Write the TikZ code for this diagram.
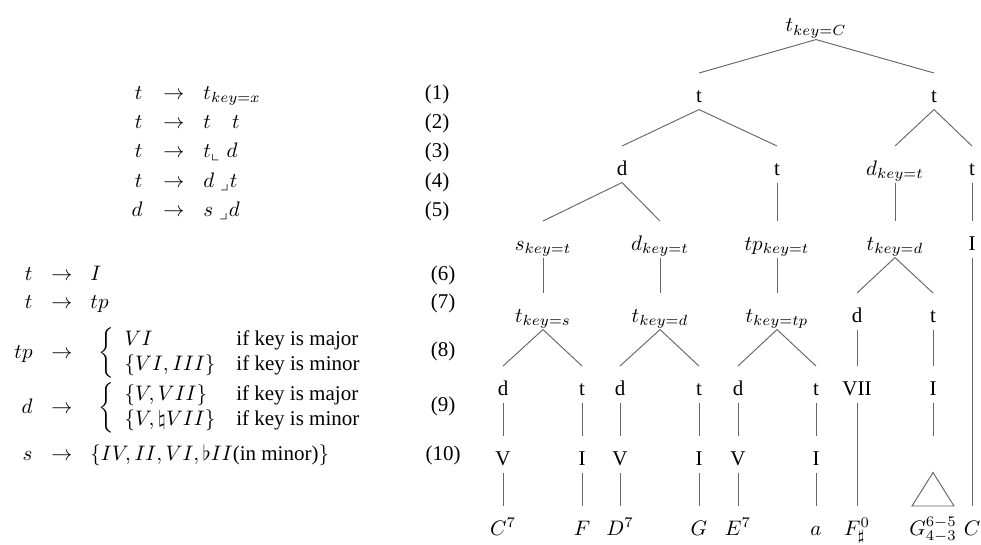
\documentclass[tikz,border=0pt]{standalone}
\usepackage[no-math]{fontspec}
\setmainfont{Liberation Serif}
\usepackage{amsmath,amssymb}

% the two rules with a case split
\newcommand{\tpcases}{\bigg\{\begin{array}{ll}
  VI & \text{if key is major}\\
  \{VI,III\} & \text{if key is minor}
 \end{array}}
\newcommand{\domcases}{\bigg\{\begin{array}{ll}
  \{V,VII\} & \text{if key is major}\\
  \{V,\natural VII\} & \text{if key is minor}
 \end{array}}

\begin{document}
\begin{tikzpicture}[x=0.476pt,y=-0.476pt]
 \tikzset{rl/.style = {inner sep=0pt, anchor=base}}
 \tikzset{tn/.style = {inner sep=0pt, text height=13.6pt, text depth=3.4pt, anchor=base}}
 \tikzset{branch/.style = {draw=black!60, line width=0.45pt}}
 \useasboundingbox (0,0) rectangle (981,545);

 % rules (1)-(5)
 \node[rl,anchor=base east] (l1) at (143,99) {$t$};
 \node[rl] (a1) at (174,99) {$\rightarrow$};
 \node[rl,anchor=base west] (r1) at (203,99) {$t_{key=x}$};
 \node[rl] (n1) at (437,99) {(1)};
 \node[rl,anchor=base east] (l2) at (143,128) {$t$};
 \node[rl] (a2) at (174,128) {$\rightarrow$};
 \node[rl,anchor=base west] (r2) at (203,128) {$t\quad t$};
 \node[rl] (n2) at (437,128) {(2)};
 \node[rl,anchor=base east] (l3) at (143,157) {$t$};
 \node[rl] (a3) at (174,157) {$\rightarrow$};
 \node[rl,anchor=base west] (r3) at (203,157) {$t_\llcorner\;d$};
 \node[rl] (n3) at (437,157) {(3)};
 \node[rl,anchor=base east] (l4) at (143,187) {$t$};
 \node[rl] (a4) at (174,187) {$\rightarrow$};
 \node[rl,anchor=base west] (r4) at (203,187) {$d\;{}_\lrcorner t$};
 \node[rl] (n4) at (437,187) {(4)};
 \node[rl,anchor=base east] (l5) at (143,216) {$d$};
 \node[rl] (a5) at (174,216) {$\rightarrow$};
 \node[rl,anchor=base west] (r5) at (203,216) {$s\;{}_\lrcorner d$};
 \node[rl] (n5) at (437,216) {(5)};

 % rules (6)-(10)
 \node[rl,anchor=base east] (l6) at (33,280) {$t$};
 \node[rl] (a6) at (62,280) {$\rightarrow$};
 \node[rl,anchor=base west] (r6) at (90,280) {$I$};
 \node[rl] (n6) at (443,280) {(6)};
 \node[rl,anchor=base east] (l7) at (33,308) {$t$};
 \node[rl] (a7) at (62,308) {$\rightarrow$};
 \node[rl,anchor=base west] (r7) at (90,308) {$tp$};
 \node[rl] (n7) at (443,308) {(7)};
 \node[rl,anchor=base east] (l8) at (33,358) {$tp$};
 \node[rl] (a8) at (62,358) {$\rightarrow$};
 \node[rl,anchor=base west] (r8) at (98,358) {$\tpcases$};
 \node[rl] (n8) at (443,356) {(8)};
 \node[rl,anchor=base east] (l9) at (33,413) {$d$};
 \node[rl] (a9) at (62,413) {$\rightarrow$};
 \node[rl,anchor=base west] (r9) at (98,413) {$\domcases$};
 \node[rl] (n9) at (443,411) {(9)};
 \node[rl,anchor=base east] (l10) at (33,460) {$s$};
 \node[rl] (a10) at (62,460) {$\rightarrow$};
 \node[rl,anchor=base west] (r10) at (90,460) {$\{IV,II,VI,\flat II\text{(in minor)}\}$};
 \node[rl] (n10) at (443,460) {(10)};

 % the tree
 \node[tn] (root) at (816,32) {$t_{key=C}$};
 \node[tn] (tA) at (699,102) {t};
 \node[tn] (tB) at (934,102) {t};
 \node[tn] (dA) at (622,175) {d};
 \node[tn] (tC) at (777,175) {t};
 \node[tn] (dK) at (895,175) {$d_{key=t}$};
 \node[tn] (tD) at (972,175) {t};
 \node[tn] (sKt) at (543,250) {$s_{key=t}$};
 \node[tn] (dKt) at (660,250) {$d_{key=t}$};
 \node[tn] (tpK) at (777,250) {$tp_{key=t}$};
 \node[tn] (tKd) at (895,250) {$t_{key=d}$};
 \node[tn] (Ia) at (972,250) {I};
 \node[tn] (tKs) at (543,322) {$t_{key=s}$};
 \node[tn] (tKd2) at (660,322) {$t_{key=d}$};
 \node[tn] (tKtp) at (777,322) {$t_{key=tp}$};
 \node[tn] (dB) at (857,322) {d};
 \node[tn] (tE) at (933,322) {t};
 \node[tn] (d1) at (503,395) {d};
 \node[tn] (t1) at (582,395) {t};
 \node[tn] (d2) at (620,395) {d};
 \node[tn] (t2) at (699,395) {t};
 \node[tn] (d3) at (738,395) {d};
 \node[tn] (t3) at (816,395) {t};
 \node[tn] (vii) at (857,395) {VII};
 \node[tn] (Ib) at (933,395) {I};
 \node[tn] (v1) at (503,465) {V};
 \node[tn] (i1) at (582,465) {I};
 \node[tn] (v2) at (620,465) {V};
 \node[tn] (i2) at (699,465) {I};
 \node[tn] (v3) at (738,465) {V};
 \node[tn] (i3) at (816,465) {I};
 \node[tn] (gap) at (933,465) {};
 \node[tn] (c7) at (503,535) {$C^7$};
 \node[tn] (f) at (582,535) {$F$};
 \node[tn] (d7) at (620,535) {$D^7$};
 \node[tn] (g) at (699,535) {$G$};
 \node[tn] (e7) at (738,535) {$E^7$};
 \node[tn] (am) at (816,535) {$a$};
 \node[tn] (fs) at (857,535) {$F^0_\sharp$};
 \node[tn] (gg) at (933,535) {$G^{6-5}_{4-3}$};
 \node[tn] (c) at (972,535) {$C$};

 \draw[branch] (tA.north) -- (root.south) -- (tB.north);
 \draw[branch] (dA.north) -- (tA.south) -- (tC.north);
 \draw[branch] (dK.north) -- (tB.south) -- (tD.north);
 \draw[branch] (sKt.north) -- (dA.south) -- (dKt.north);
 \draw[branch] (tC.south) -- (tpK.north);
 \draw[branch] (dK.south) -- (tKd.north);
 \draw[branch] (tD.south) -- (Ia.north);
 \draw[branch] (sKt.south) -- (tKs.north);
 \draw[branch] (dKt.south) -- (tKd2.north);
 \draw[branch] (tpK.south) -- (tKtp.north);
 \draw[branch] (dB.north) -- (tKd.south) -- (tE.north);
 \draw[branch] (Ia.south) -- (c.north);
 \draw[branch] (d1.north) -- (tKs.south) -- (t1.north);
 \draw[branch] (d2.north) -- (tKd2.south) -- (t2.north);
 \draw[branch] (d3.north) -- (tKtp.south) -- (t3.north);
 \draw[branch] (dB.south) -- (vii.north);
 \draw[branch] (tE.south) -- (Ib.north);
 \draw[branch] (d1.south) -- (v1.north);
 \draw[branch] (t1.south) -- (i1.north);
 \draw[branch] (d2.south) -- (v2.north);
 \draw[branch] (t2.south) -- (i2.north);
 \draw[branch] (d3.south) -- (v3.north);
 \draw[branch] (t3.south) -- (i3.north);
 \draw[branch] (vii.south) -- (fs.north);
 \draw[branch] (Ib.south) -- (gap.north);
 \draw[branch] (v1.south) -- (c7.north);
 \draw[branch] (i1.south) -- (f.north);
 \draw[branch] (v2.south) -- (d7.north);
 \draw[branch] (i2.south) -- (g.north);
 \draw[branch] (v3.south) -- (e7.north);
 \draw[branch] (i3.south) -- (am.north);
 % roof over the cadence
 \draw[branch] (gap.south) -- ([xshift=-10pt]gg.north) -- ([xshift=10pt]gg.north) -- cycle;
\end{tikzpicture}
\end{document}
